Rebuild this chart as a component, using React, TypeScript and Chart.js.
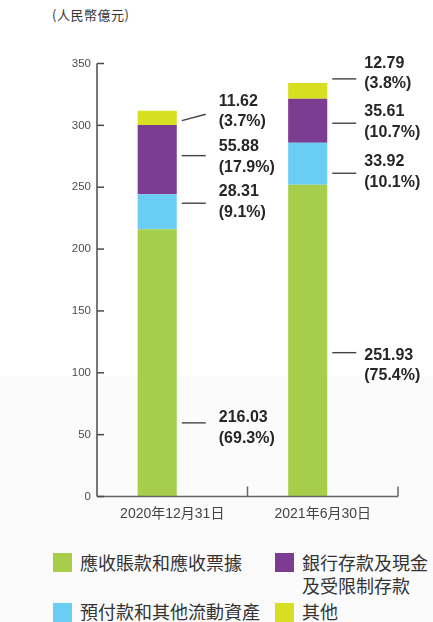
import React, { useEffect, useRef } from 'react';
import { Chart, registerables } from 'chart.js';

Chart.register(...registerables);

// ---- data ----
const categories = ['2020年12月31日', '2021年6月30日'];
const receivables = [216.03, 251.93];
const prepayments = [28.31, 33.92];
const bankDeposits = [55.88, 35.61];
const others = [11.62, 12.79];
const receivablesPct = [69.3, 75.4];
const prepaymentsPct = [9.1, 10.1];
const bankDepositsPct = [17.9, 10.7];
const othersPct = [3.7, 3.8];
const yTicks = [0, 50, 100, 150, 200, 250, 300, 350];
const unitLabel = '(人民幣億元)';
const seriesNames = ['應收賬款和應收票據', '預付款和其他流動資產', '銀行存款及現金\n及受限制存款', '其他'];
const seriesColors = ['#a6ce4a', '#6acdf4', '#7b3c92', '#d8df21'];

// ---- label layout (pixels relative to segment middle): [lineStartDy, lineEndDy, textDy] ----
const leaderLayout = [
  [[60, 60, 5], [12, 12, 13]],
  [[-8.5, -8.5, -1], [9.4, 9.4, -1]],
  [[-4, -4, 1.6], [2.4, 2.4, -1]],
  [[2.8, -3.6, -2.6], [-12, -12, -5.5]],
];
const textOffsetX = [42, 37];

const series = [
  { name: seriesNames[0], data: receivables, pct: receivablesPct, color: seriesColors[0] },
  { name: seriesNames[1], data: prepayments, pct: prepaymentsPct, color: seriesColors[1] },
  { name: seriesNames[2], data: bankDeposits, pct: bankDepositsPct, color: seriesColors[2] },
  { name: seriesNames[3], data: others, pct: othersPct, color: seriesColors[3] },
];

const LATIN = '"Liberation Sans", Arial, "Noto Sans CJK TC", sans-serif';
const CJK = '"Noto Sans CJK TC", "Noto Sans CJK SC", sans-serif';

const annotatePlugin = {
  id: 'annotate',
  afterDatasetsDraw(chart: any) {
    const ctx = chart.ctx as CanvasRenderingContext2D;
    const { left, right, top, bottom } = chart.chartArea;
    const ys = chart.scales.y;
    const xs = chart.scales.x;
    ctx.save();
    // axis lines
    ctx.lineWidth = 1.5;
    ctx.strokeStyle = '#4a4a4a';
    ctx.beginPath();
    ctx.moveTo(left, top);
    ctx.lineTo(left, bottom);
    ctx.stroke();
    ctx.strokeStyle = '#666';
    ctx.beginPath();
    ctx.moveTo(left, bottom);
    ctx.lineTo(right, bottom);
    ctx.stroke();
    // y tick marks (inside)
    ctx.strokeStyle = '#4a4a4a';
    ys.ticks.forEach((t: any) => {
      const py = ys.getPixelForValue(t.value);
      ctx.beginPath();
      ctx.moveTo(left, py);
      ctx.lineTo(left + 7, py);
      ctx.stroke();
    });
    // x tick marks at category boundaries (inside)
    ctx.strokeStyle = '#666';
    const n = categories.length;
    for (let i = 1; i <= n; i++) {
      const px = i < n ? (xs.getPixelForTick(i - 1) + xs.getPixelForTick(i)) / 2 : right;
      ctx.beginPath();
      ctx.moveTo(px, bottom);
      ctx.lineTo(px, bottom - 10);
      ctx.stroke();
    }
    // leader lines + labels
    ctx.font = `bold 16px ${LATIN}`;
    ctx.fillStyle = '#262626';
    ctx.textBaseline = 'middle';
    ctx.textAlign = 'left';
    series.forEach((s, j) => {
      const meta = chart.getDatasetMeta(j);
      s.data.forEach((v, i) => {
        const bar = meta.data[i];
        const p = bar.getProps(['x', 'y', 'base', 'width'], true);
        const mid = (p.y + p.base) / 2;
        const rx = p.x + p.width / 2;
        const [d0, d1, dt] = leaderLayout[j][i];
        ctx.strokeStyle = '#444';
        ctx.lineWidth = 1.4;
        ctx.beginPath();
        ctx.moveTo(rx + 5, mid + d0);
        ctx.lineTo(rx + 29, mid + d1);
        ctx.stroke();
        const tx = rx + textOffsetX[i];
        const cy = mid + d1 + dt;
        ctx.fillText(v.toFixed(2), tx, cy - 10.25);
        ctx.fillText(`(${s.pct[i].toFixed(1)}%)`, tx, cy + 10.25);
      });
    });
    ctx.restore();
  },
};

function StackedChart() {
  const ref = useRef<HTMLCanvasElement | null>(null);
  useEffect(() => {
    if (!ref.current) return;
    const datasets: any[] = series.map((s) => ({
      label: s.name,
      data: s.data,
      backgroundColor: s.color,
      borderWidth: 0,
      stack: 'main',
      categoryPercentage: 0.4,
      barPercentage: 1.3,
    }));
    datasets.push({
      label: '',
      data: categories.map(() => 0),
      backgroundColor: 'rgba(0,0,0,0)',
      borderWidth: 0,
      stack: 'pad',
      categoryPercentage: 0.4,
      barPercentage: 1.3,
    });
    const chart = new Chart(ref.current, {
      type: 'bar',
      data: { labels: categories, datasets },
      options: {
        responsive: false,
        animation: false,
        layout: { padding: { top: 63.5, right: 35, left: 0, bottom: 0 } },
        plugins: { legend: { display: false }, tooltip: { enabled: false } },
        scales: {
          x: {
            stacked: true,
            grid: { display: false, drawTicks: false },
            border: { display: false },
            ticks: { padding: 9, color: '#444', font: { family: LATIN, size: 14 } },
            afterFit: (s: any) => {
              s.height = 33.5;
            },
          },
          y: {
            stacked: true,
            min: 0,
            max: 350,
            grid: { display: false, drawTicks: false },
            border: { display: false },
            ticks: { padding: 6, color: '#4d4d4d', font: { family: LATIN, size: 11.5 } },
            afterBuildTicks: (s: any) => {
              s.ticks = yTicks.map((v) => ({ value: v }));
            },
            afterFit: (s: any) => {
              s.width = 97;
            },
          },
        },
      } as any,
      plugins: [annotatePlugin],
    });
    return () => chart.destroy();
  }, []);
  return <canvas ref={ref} width={433} height={530} style={{ display: 'block', position: 'absolute', left: 0, top: 0 }} />;
}

function Legend() {
  const order = [0, 1, 2, 3];
  return (
    <div
      style={{
        position: 'absolute',
        left: 53,
        top: 550.5,
        display: 'grid',
        gridTemplateColumns: '222px auto',
        gridTemplateRows: 'auto auto',
        gridAutoFlow: 'column',
        rowGap: 3.7,
      }}
    >
      {order.map((k) => (
        <div key={k} style={{ display: 'flex', alignItems: 'flex-start' }}>
          <div style={{ width: 19, height: 19, marginTop: 2.5, background: series[k].color, flex: 'none' }} />
          <div
            style={{
              marginLeft: 8,
              fontFamily: CJK,
              fontSize: 18,
              lineHeight: '23px',
              color: '#333',
              whiteSpace: 'pre-line',
            }}
          >
            {series[k].name}
          </div>
        </div>
      ))}
    </div>
  );
}

export default function App() {
  return (
    <div style={{ position: 'absolute', left: 0, top: 0, width: 433, height: 622, background: '#fff', overflow: 'hidden' }}>
      <div style={{ position: 'absolute', left: 0, top: 376, width: 433, height: 246, background: '#fbfbfc' }} />
      <div
        style={{
          position: 'absolute',
          left: 52,
          top: 6,
          fontFamily: CJK,
          fontSize: 13,
          letterSpacing: 0.5,
          lineHeight: '17px',
          color: '#333',
        }}
      >
        {unitLabel}
      </div>
      <StackedChart />
      <Legend />
    </div>
  );
}
